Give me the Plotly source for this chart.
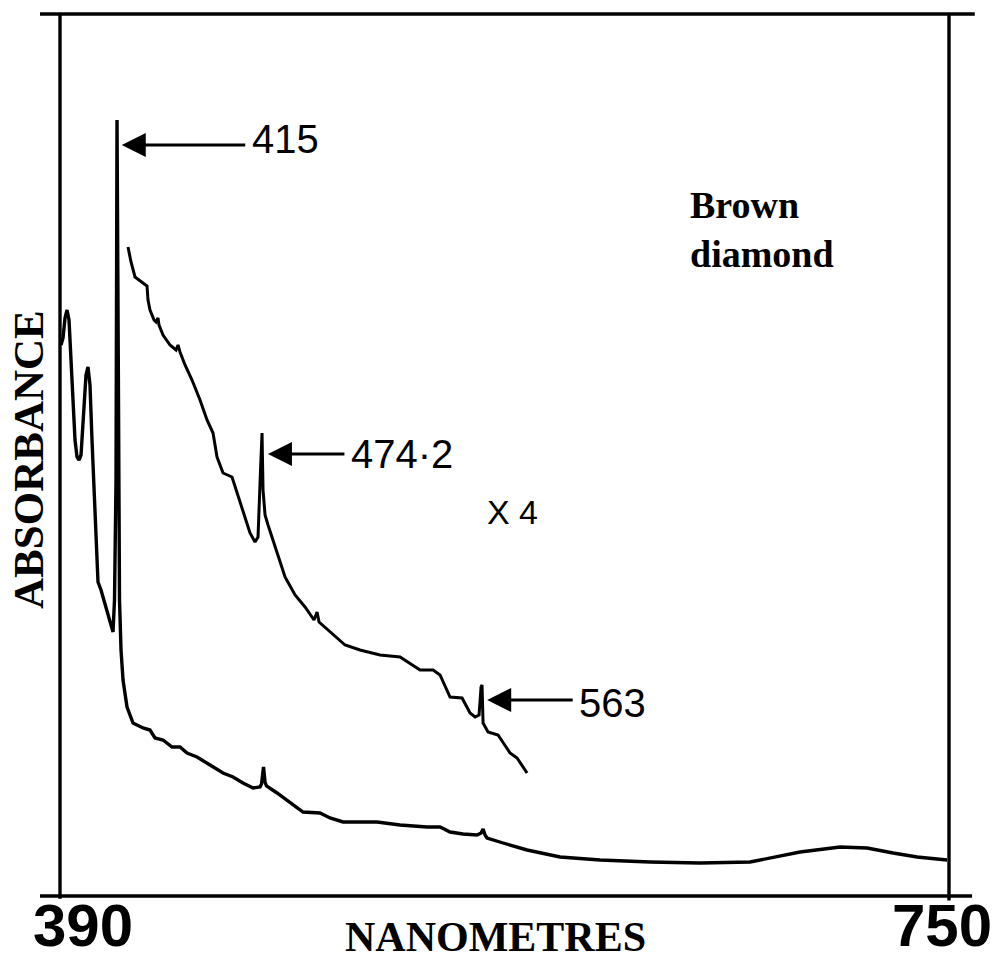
import plotly.graph_objects as go

# ---- data ----
# wavelength (nm) and absorbance (arbitrary units) for the main spectrum
main_nm = [390.41, 391.22, 392.03, 392.84, 393.65, 394.86, 396.08, 396.89, 397.70, 398.51,
           399.72, 400.53, 401.34, 402.15, 402.96, 403.77, 404.58, 405.39, 406.61, 407.82,
           409.44, 410.66, 411.47, 412.07, 412.68, 413.09, 413.69, 414.10, 414.71, 415.52,
           417.14, 419.57, 423.62, 426.45, 428.48, 431.72, 435.36, 438.60, 441.44, 445.49,
           450.75, 456.02, 460.07, 464.12, 468.17, 471.00, 471.61, 472.42, 473.03, 473.63,
           477.89, 483.15, 488.42, 495.30, 499.35, 504.62, 518.39, 527.70, 538.64, 543.90,
           547.95, 553.22, 558.89, 560.51, 561.32, 562.13, 562.94, 569.42, 579.14, 592.50,
           608.70, 628.95, 649.20, 669.45, 677.55, 689.70, 705.90, 716.84, 727.37, 737.09,
           749.24]
main_abs = [0.551, 0.558, 0.578, 0.586, 0.576, 0.516, 0.456, 0.439, 0.436, 0.441,
            0.486, 0.521, 0.529, 0.511, 0.456, 0.406, 0.356, 0.314, 0.306, 0.296,
            0.284, 0.271, 0.264, 0.296, 0.416, 0.776, 0.496, 0.296, 0.246, 0.216,
            0.189, 0.173, 0.168, 0.166, 0.158, 0.156, 0.149, 0.149, 0.143, 0.139,
            0.131, 0.123, 0.119, 0.113, 0.108, 0.109, 0.112, 0.129, 0.114, 0.110,
            0.103, 0.093, 0.084, 0.083, 0.078, 0.074, 0.074, 0.071, 0.069, 0.069,
            0.064, 0.062, 0.061, 0.063, 0.067, 0.061, 0.058, 0.053, 0.046, 0.039,
            0.036, 0.034, 0.033, 0.034, 0.038, 0.044, 0.049, 0.048, 0.043, 0.039,
            0.036]

# x4 expanded spectrum
x4_nm = [417.54, 418.76, 420.38, 423.21, 425.24, 425.64, 426.45, 428.07, 428.88, 429.69,
         430.10, 431.72, 434.55, 436.98, 437.79, 438.60, 440.63, 443.46, 446.70, 449.54,
         451.97, 453.59, 456.02, 459.66, 461.69, 464.12, 466.95, 468.98, 470.19, 471.20,
         471.81, 472.22, 473.03, 474.24, 477.08, 481.13, 485.18, 489.23, 492.87, 494.09,
         494.90, 499.35, 505.43, 511.50, 519.60, 527.70, 535.80, 541.07, 543.90, 547.95,
         552.81, 556.05, 558.08, 559.70, 560.51, 560.91, 561.32, 563.34, 567.39, 572.25,
         575.09, 579.14]
x4_abs = [0.649, 0.634, 0.619, 0.614, 0.610, 0.596, 0.586, 0.576, 0.574, 0.578,
          0.571, 0.561, 0.551, 0.546, 0.551, 0.544, 0.531, 0.516, 0.496, 0.476,
          0.463, 0.439, 0.423, 0.419, 0.403, 0.383, 0.363, 0.354, 0.359, 0.426,
          0.463, 0.406, 0.381, 0.371, 0.349, 0.319, 0.301, 0.289, 0.276, 0.284,
          0.274, 0.264, 0.251, 0.246, 0.241, 0.239, 0.226, 0.226, 0.221, 0.199,
          0.198, 0.183, 0.179, 0.181, 0.209, 0.211, 0.173, 0.164, 0.161, 0.143,
          0.138, 0.123]

# labelled peaks
peak_nm = [415, 474.2, 563]
peak_abs = [0.751, 0.442, 0.196]
peak_text = ["415", "474·2", "563"]
peak_arrow_len = [125, 78, 87]   # pixels
peak_text_yshift = [6, 0, -3]

tick_vals = [390, 750]
tick_text = ["390", "750"]

x_title = "NANOMETRES"
y_title = "ABSORBANCE"
sample_label = "Brown<br>diamond"
scale_label = "X 4"
scale_pos = (573.1, 0.384)

# ---- figure ----
fig = go.Figure()
fig.add_trace(go.Scatter(x=main_nm, y=main_abs, mode="lines",
                         line=dict(color="black", width=3.4), hoverinfo="skip"))
fig.add_trace(go.Scatter(x=x4_nm, y=x4_abs, mode="lines",
                         line=dict(color="black", width=3), hoverinfo="skip"))

W, H = 995, 961
ml, mr, mt, mb = 60, 46, 14, 65

shapes = [
    dict(type="line", xref="paper", yref="paper", x0=-0.0225, x1=1.029, y0=1, y1=1,
         line=dict(color="black", width=3.4)),
    dict(type="line", xref="paper", yref="paper", x0=-0.0225, x1=1.026, y0=0, y1=0,
         line=dict(color="black", width=3.4)),
    dict(type="line", xref="paper", yref="paper", x0=0, x1=0, y0=-0.003, y1=1,
         line=dict(color="black", width=3.4)),
    dict(type="line", xref="paper", yref="paper", x0=1, x1=1, y0=-0.005, y1=1,
         line=dict(color="black", width=3.4)),
]

ann = []
num_font = dict(family="Liberation Sans", size=40, color="black")
for nm, a, t, L, ys in zip(peak_nm, peak_abs, peak_text, peak_arrow_len, peak_text_yshift):
    ann.append(dict(x=nm, y=a, xref="x", yref="y", text="", showarrow=True,
                    ax=L, ay=0, arrowhead=2, arrowsize=1.5, arrowwidth=3.2,
                    arrowcolor="black", standoff=0, startstandoff=0))
    ann.append(dict(x=nm, y=a, xref="x", yref="y", text=t, showarrow=False,
                    xanchor="left", yanchor="middle", xshift=L + 3, yshift=ys,
                    font=num_font))

ann.append(dict(x=scale_pos[0], y=scale_pos[1], xref="x", yref="y", text=scale_label,
                showarrow=False, xanchor="center", yanchor="middle",
                font=dict(family="Liberation Sans", size=34, color="black")))

ann.append(dict(x=tick_vals[0], y=0, xref="x", yref="paper", text=tick_text[0],
                showarrow=False, xanchor="left", yanchor="middle", xshift=-29, yshift=-29,
                font=dict(family="Liberation Sans", size=60, color="black", weight="bold")))
ann.append(dict(x=tick_vals[1], y=0, xref="x", yref="paper", text=tick_text[1],
                showarrow=False, xanchor="right", yanchor="middle", xshift=45, yshift=-29,
                font=dict(family="Liberation Sans", size=60, color="black", weight="bold")))

ann.append(dict(x=(495 - ml) / (W - ml - mr), y=-0.0465, xref="paper", yref="paper",
                text=x_title, showarrow=False, xanchor="center", yanchor="middle",
                font=dict(family="Liberation Serif", size=42, color="black", weight="bold")))
ann.append(dict(x=-0.0349, y=0.4955, xref="paper", yref="paper", text=y_title,
                showarrow=False, xanchor="center", yanchor="middle", textangle=-90,
                font=dict(family="Liberation Serif", size=43, color="black", weight="bold")))
ann.append(dict(x=0.7064, y=0.8095, xref="paper", yref="paper", text=sample_label,
                showarrow=False, xanchor="left", yanchor="top", align="left",
                font=dict(family="Liberation Serif", size=38, color="black", weight="bold")))

fig.update_layout(
    width=W, height=H,
    margin=dict(l=ml, r=mr, t=mt, b=mb, pad=0),
    paper_bgcolor="white", plot_bgcolor="white",
    showlegend=False,
    xaxis=dict(range=[390, 750], visible=False, fixedrange=True),
    yaxis=dict(range=[0, 0.882], visible=False, fixedrange=True),
    shapes=shapes, annotations=ann,
)

fig.write_html("out.html")
